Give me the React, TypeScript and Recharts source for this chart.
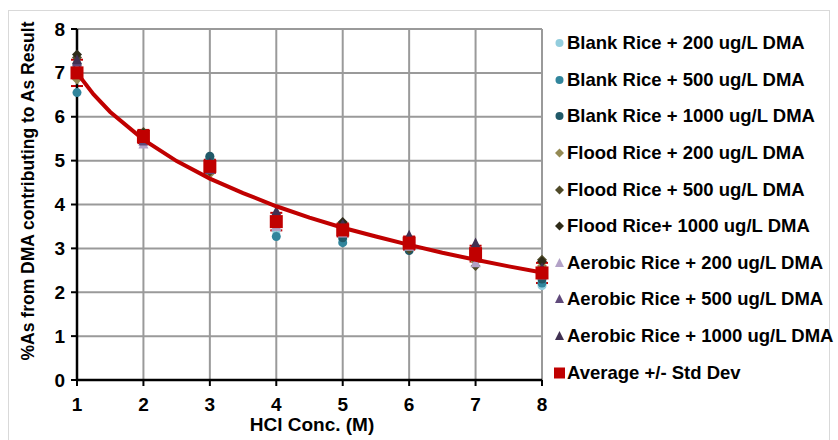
import { ScatterChart, Scatter, XAxis, YAxis, CartesianGrid, ErrorBar } from 'recharts'

// HCl concentration (M)
const hcl = [1, 2, 3, 4, 5, 6, 7, 8]

const blank200 = [6.95, 5.45, 4.95, 3.42, 3.2, 3.0, 2.75, 2.15]
const blank500 = [6.55, 5.5, 5.05, 3.27, 3.13, 3.05, 2.8, 2.21]
const blank1000 = [7.2, 5.6, 5.1, 3.55, 3.24, 2.95, 2.85, 2.3]
const flood200 = [6.85, 5.5, 4.7, 3.5, 3.4, 3.0, 2.7, 2.6]
const flood500 = [7.35, 5.65, 4.75, 3.6, 3.55, 2.98, 2.6, 2.74]
const flood1000 = [7.42, 5.62, 4.8, 3.55, 3.6, 3.1, 2.75, 2.7]
const aerobic200 = [7.1, 5.38, 4.85, 3.5, 3.35, 3.05, 2.67, 2.4]
const aerobic500 = [7.25, 5.45, 4.8, 3.8, 3.5, 3.25, 3.05, 2.5]
const aerobic1000 = [7.3, 5.55, 4.95, 3.85, 3.55, 3.3, 3.12, 2.55]
const average = [7.0, 5.55, 4.87, 3.61, 3.42, 3.12, 2.88, 2.44]
const stdDev = [0.3, 0.15, 0.15, 0.2, 0.15, 0.15, 0.18, 0.23]

// fitted trend curve
const trendX = [1, 1.25, 1.5, 2, 2.5, 3, 3.5, 4, 4.5, 5, 5.5, 6, 6.5, 7, 7.5, 8]
const trendY = [7.0, 6.51, 6.11, 5.48, 4.99, 4.59, 4.26, 3.96, 3.7, 3.47, 3.27, 3.08, 2.9, 2.74, 2.59, 2.45]

const xTicks = [1, 2, 3, 4, 5, 6, 7, 8]
const yTicks = [0, 1, 2, 3, 4, 5, 6, 7, 8]
const xMinorTicks = [1.4, 1.8, 2.2, 2.6, 3.4, 3.8, 4.2, 4.6, 5.4, 5.8, 6.2, 6.6, 7.4, 7.8]
const yMinorTicks = [0.5, 1.5, 2.5, 3.5, 4.5, 5.5, 6.5, 7.5]

type Shape = 'circle' | 'diamond' | 'triangle' | 'square'

const series: { name: string; values: number[]; color: string; shape: Shape }[] = [
  { name: 'Blank Rice + 200 ug/L DMA', values: blank200, color: '#93CDDD', shape: 'circle' },
  { name: 'Blank Rice + 500 ug/L DMA', values: blank500, color: '#31859C', shape: 'circle' },
  { name: 'Blank Rice + 1000 ug/L DMA', values: blank1000, color: '#215968', shape: 'circle' },
  { name: 'Flood Rice + 200 ug/L DMA', values: flood200, color: '#948A54', shape: 'diamond' },
  { name: 'Flood Rice + 500 ug/L DMA', values: flood500, color: '#4F4A28', shape: 'diamond' },
  { name: 'Flood Rice+ 1000 ug/L DMA', values: flood1000, color: '#2E2B18', shape: 'diamond' },
  { name: 'Aerobic Rice + 200 ug/L DMA', values: aerobic200, color: '#B3A2C7', shape: 'triangle' },
  { name: 'Aerobic Rice + 500 ug/L DMA', values: aerobic500, color: '#604A7B', shape: 'triangle' },
  { name: 'Aerobic Rice + 1000 ug/L DMA', values: aerobic1000, color: '#403152', shape: 'triangle' },
]
const avgName = 'Average +/- Std Dev'
const avgColor = '#C00000'

const FONT = '"Liberation Sans", Arial, Helvetica, sans-serif'

function marker(shape: Shape, cx: number, cy: number, color: string, s: number) {
  if (shape === 'circle') return <circle cx={cx} cy={cy} r={s / 2} fill={color} />
  if (shape === 'diamond')
    return (
      <polygon
        points={`${cx},${cy - s / 2 - 0.5} ${cx + s / 2 + 0.5},${cy} ${cx},${cy + s / 2 + 0.5} ${cx - s / 2 - 0.5},${cy}`}
        fill={color}
      />
    )
  if (shape === 'triangle')
    return (
      <polygon
        points={`${cx},${cy - s / 2 - 1} ${cx + s / 2 + 0.5},${cy + s / 2} ${cx - s / 2 - 0.5},${cy + s / 2}`}
        fill={color}
      />
    )
  return <rect x={cx - s / 2} y={cy - s / 2} width={s} height={s} fill={color} />
}

const YTitle = () => (
  <text
    transform="translate(28, 191) rotate(-90)"
    textAnchor="middle"
    dominantBaseline="central"
    fontFamily={FONT}
    fontWeight="bold"
    fontSize={17.5}
    fill="#000"
  >
    %As from DMA contributing to As Result
  </text>
)

const XTitle = () => (
  <text x={312} y={424} textAnchor="middle" dominantBaseline="central" fontFamily={FONT} fontWeight="bold" fontSize={19} fill="#000">
    HCl Conc. (M)
  </text>
)

const XTick = (p: any) => (
  <text x={p.x} y={p.y + 6} textAnchor="middle" dominantBaseline="hanging" fontFamily={FONT} fontWeight="bold" fontSize={19} fill="#000">
    {p.payload.value}
  </text>
)

const YTick = (p: any) => (
  <text x={p.x - 2} y={p.y} textAnchor="end" dominantBaseline="central" fontFamily={FONT} fontWeight="bold" fontSize={19} fill="#000">
    {p.payload.value}
  </text>
)

export default function App() {
  const avgData = hcl.map((x, i) => ({ x, y: average[i], err: stdDev[i] }))
  const trendData = trendX.map((x, i) => ({ x, y: trendY[i] }))

  return (
    <div style={{ position: 'absolute', left: 0, top: 0, width: 838, height: 440, background: '#fff', fontFamily: FONT }}>
      <div style={{ position: 'absolute', left: 8, top: 10, width: 822, height: 440, border: '1px solid #d9d9d9', boxSizing: 'border-box' }} />
      <ScatterChart width={838} height={440} margin={{ top: 29, right: 296, bottom: 0, left: 0 }} style={{ position: 'absolute', left: 0, top: 0 }}>
        <CartesianGrid stroke="#9a9a9a" strokeWidth={2} vertical horizontal />
        <XAxis
          xAxisId="minor"
          type="number"
          dataKey="x"
          domain={[1, 8]}
          ticks={xMinorTicks}
          tickFormatter={() => ''}
          height={0}
          mirror
          axisLine={false}
          tickSize={4}
          tickLine={{ stroke: '#000', strokeWidth: 2 }}
        />
        <XAxis
          type="number"
          dataKey="x"
          domain={[1, 8]}
          ticks={xTicks}
          interval={0}
          height={60}
          tickSize={6}
          tickMargin={5}
          axisLine={{ stroke: '#000', strokeWidth: 2.5 }}
          tickLine={{ stroke: '#000', strokeWidth: 2 }}
          tick={<XTick />}
          label={<XTitle />}
        />
        <YAxis
          yAxisId="minor"
          type="number"
          dataKey="y"
          domain={[0, 8]}
          ticks={yMinorTicks}
          tickFormatter={() => ''}
          width={0}
          mirror
          axisLine={false}
          tickSize={4}
          tickLine={{ stroke: '#000', strokeWidth: 2 }}
        />
        <YAxis
          type="number"
          dataKey="y"
          domain={[0, 8]}
          ticks={yTicks}
          interval={0}
          width={77}
          tickSize={6}
          tickMargin={4}
          axisLine={{ stroke: '#000', strokeWidth: 2.5 }}
          tickLine={{ stroke: '#000', strokeWidth: 2 }}
          tick={<YTick />}
          label={<YTitle />}
        />
        {series.map((s) => (
          <Scatter
            key={s.name}
            name={s.name}
            data={hcl.map((x, i) => ({ x, y: s.values[i] }))}
            isAnimationActive={false}
            shape={(p: any) => marker(s.shape, p.cx, p.cy, s.color, 9)}
          />
        ))}
        <Scatter
          name="trend"
          data={trendData}
          isAnimationActive={false}
          line={{ stroke: avgColor, strokeWidth: 4 }}
          lineType="joint"
          shape={() => <g />}
        />
        <Scatter name={avgName} data={avgData} isAnimationActive={false} shape={(p: any) => marker('square', p.cx, p.cy, avgColor, 13)}>
          <ErrorBar dataKey="err" direction="y" width={6} stroke={avgColor} strokeWidth={2} />
        </Scatter>
      </ScatterChart>
      <div style={{ position: 'absolute', left: 553, top: 25 }}>
        {[...series, { name: avgName, color: avgColor, shape: 'square' as Shape }].map((s) => (
          <div key={s.name} style={{ height: 36.6, display: 'flex', alignItems: 'center', whiteSpace: 'nowrap' }}>
            <svg width={13} height={14} style={{ flex: 'none' }}>
              {marker(s.shape, 6.5, 7, s.color, s.shape === 'square' ? 11 : 8)}
            </svg>
            <span style={{ fontWeight: 'bold', fontSize: 18.5, marginLeft: 1, color: '#000' }}>{s.name}</span>
          </div>
        ))}
      </div>
    </div>
  )
}
